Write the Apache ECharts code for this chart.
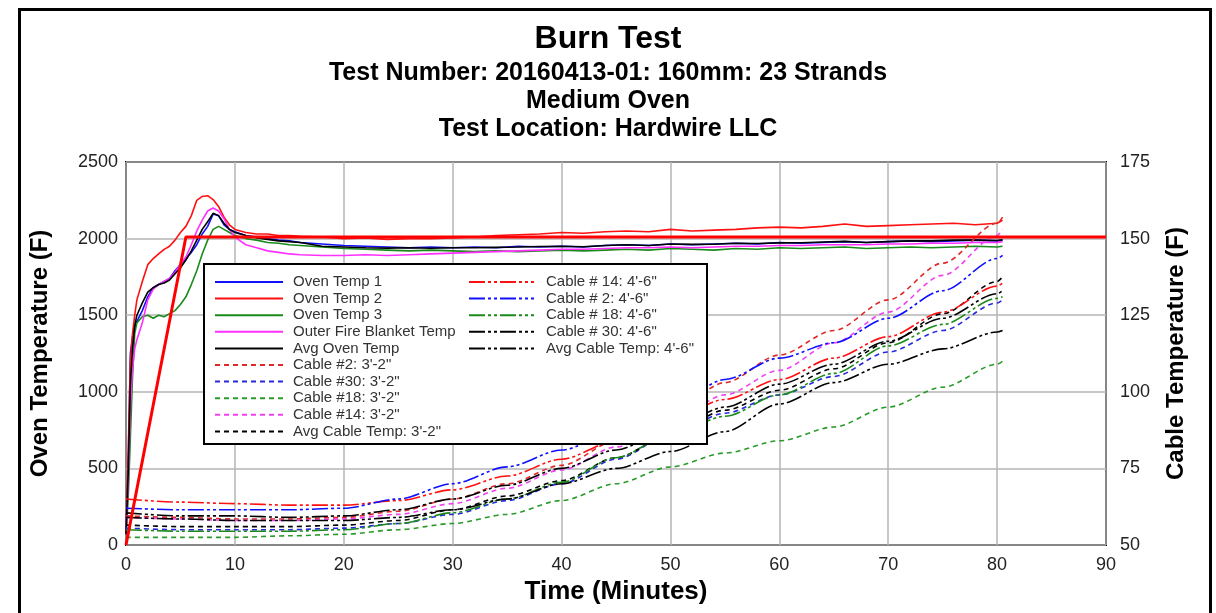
<!DOCTYPE html>
<html>
<head>
<meta charset="utf-8">
<title>Burn Test</title>
<script src="https://cdn.jsdelivr.net/npm/echarts@6.0.0/dist/echarts.min.js"></script>
<style>
  html, body { margin: 0; padding: 0; background: #fff; }
  #myChart { width: 1216px; height: 613px; }
</style>
</head>
<body>
<div id="myChart"></div>
<script>
// oven thermocouples (left axis, deg F), sampled in minutes
const ovenTime = [0, 0.2, 0.4, 0.6, 0.8, 1, 1.5, 2, 2.5, 3, 3.5, 4, 4.5, 5, 5.5, 6, 6.5, 7, 7.5, 8, 8.5, 9, 9.5, 10,
  11, 12, 13, 14, 15, 16, 18, 20, 22, 24, 26, 28, 30, 32, 34, 36, 38, 40, 42, 44, 46, 48, 50, 52, 54, 56, 58, 60,
  62, 64, 66, 68, 70, 72, 74, 76, 78, 80, 80.5]
const ovenTemp1 = [70, 500, 1250, 1360, 1420, 1460, 1530, 1620, 1680, 1700, 1720, 1740, 1790, 1830, 1870, 1910, 1960, 2030, 2080, 2160, 2150, 2090, 2060, 2045,
  2020, 2010, 2000, 1990, 1985, 1975, 1965, 1955, 1950, 1945, 1940, 1945, 1940, 1945, 1940, 1950, 1945, 1950, 1945, 1955, 1960, 1955, 1965, 1960, 1965, 1970, 1965, 1975,
  1970, 1975, 1980, 1975, 1980, 1985, 1980, 1985, 1990, 1985, 1990]
const ovenTemp2 = [70, 600, 1200, 1380, 1500, 1600, 1720, 1830, 1870, 1900, 1930, 1950, 1990, 2040, 2080, 2150, 2250, 2275, 2280, 2255, 2210, 2140, 2090, 2060,
  2040, 2030, 2030, 2020, 2020, 2015, 2010, 2000, 2005, 1995, 2000, 2000, 2005, 2010, 2020, 2025, 2030, 2040, 2035, 2045, 2050, 2045, 2060, 2050, 2055, 2060, 2070, 2075,
  2070, 2080, 2095, 2080, 2085, 2090, 2095, 2100, 2090, 2100, 2120]
const ovenTemp3 = [70, 300, 700, 1100, 1380, 1450, 1490, 1500, 1480, 1500, 1490, 1510, 1530, 1570, 1620, 1700, 1790, 1900, 1990, 2060, 2080, 2060, 2040, 2020,
  2000, 1990, 1975, 1970, 1960, 1955, 1945, 1935, 1930, 1925, 1920, 1925, 1920, 1915, 1920, 1915, 1920, 1925, 1920, 1925, 1930, 1925, 1935, 1930, 1925, 1935, 1930, 1940,
  1935, 1940, 1945, 1935, 1940, 1945, 1940, 1945, 1950, 1945, 1950]
const blanketTemp = [70, 400, 900, 1150, 1280, 1340, 1450, 1600, 1670, 1700, 1720, 1740, 1780, 1830, 1880, 1960, 2050, 2120, 2180, 2200, 2180, 2130, 2060, 2010,
  1960, 1940, 1920, 1910, 1900, 1895, 1890, 1890, 1895, 1890, 1895, 1900, 1905, 1910, 1915, 1920, 1925, 1930, 1930, 1935, 1940, 1940, 1945, 1940, 1945, 1950, 1950, 1955,
  1955, 1960, 1960, 1960, 1965, 1965, 1970, 1970, 1975, 1975, 1980]
const avgOvenTemp = [70, 470, 1050, 1280, 1430, 1500, 1580, 1650, 1680, 1700, 1710, 1730, 1770, 1810, 1860, 1920, 1990, 2060, 2110, 2165, 2150, 2100, 2060, 2040,
  2020, 2005, 1995, 1985, 1980, 1975, 1950, 1945, 1940, 1938, 1940, 1937, 1940, 1940, 1943, 1945, 1948, 1950, 1947, 1955, 1960, 1955, 1965, 1962, 1963, 1970, 1968, 1972,
  1973, 1978, 1982, 1975, 1980, 1985, 1985, 1990, 1990, 1988, 1992]

// target curve
const targetTime = [0, 5.5, 90]
const targetTemp = [0, 2010, 2010]

// cable thermocouples (right axis, deg F)
const cableTime = [0, 5, 10, 15, 20, 25, 30, 35, 40, 45, 50, 55, 60, 65, 70, 75, 80, 80.5]
const cable2_32 = [59.5, 59, 58.5, 58.5, 59, 61, 65, 70, 76, 84, 93, 103, 112, 120, 130, 142, 155, 157]
const cable30_32 = [55.5, 55, 55, 55, 55.5, 57, 60, 64.5, 70, 78, 86, 93, 99, 105, 113, 120, 129, 130]
const cable18_32 = [52.5, 52.5, 52.5, 53, 53.5, 55, 57, 60, 64.5, 70, 75.5, 80, 84, 88.5, 95, 101.5, 109, 110]
const cable14_32 = [59, 58.5, 58, 58, 58.5, 60, 63.5, 68.5, 74.5, 82, 90, 99, 107, 116, 126, 138, 151, 153]
const avgCable_32 = [56.5, 56, 56, 56, 56.5, 58, 61.5, 66, 71, 78.5, 86, 94, 100.5, 107.5, 116, 125.5, 136, 137.5]
const cable14_46 = [65, 64, 63.5, 63, 63, 64.5, 68, 72.5, 78, 84, 91, 97.5, 104, 111, 118, 126, 134.5, 135.5]
const cable2_46 = [62, 61.5, 61.5, 61.5, 62, 65, 70, 75.5, 81, 87, 95, 104, 111, 116, 124, 133, 143.5, 144.5]
const cable18_46 = [55, 54.5, 54.5, 54.5, 55, 57, 60.5, 65, 70.5, 78.5, 86, 92, 99, 106, 115, 122, 130.5, 131]
const cable30_46 = [59, 58.5, 58, 58, 58, 59, 61.5, 65, 70, 75, 80.5, 87, 96, 103, 109, 114, 119.5, 120]
const avgCable_46 = [60.5, 59.5, 59.5, 59, 59.5, 61.5, 65, 69.5, 75, 81, 88, 95, 102.5, 109, 116.5, 124, 132, 133]

const legendLeft = ['Oven Temp 1', 'Oven Temp 2', 'Oven Temp 3', 'Outer Fire Blanket Temp', 'Avg Oven Temp',
  'Cable #2: 3\'-2"', 'Cable #30: 3\'-2"', 'Cable #18: 3\'-2"', 'Cable #14: 3\'-2"', 'Avg Cable Temp: 3\'-2"']
const legendRight = ['Cable # 14: 4\'-6"', 'Cable # 2: 4\'-6"', 'Cable # 18: 4\'-6"', 'Cable # 30: 4\'-6"', 'Avg Cable Temp: 4\'-6"']

const font = 'Arial, "Liberation Sans", sans-serif'
const dotted = [5, 4]
const dashDot = [16, 3, 3, 3, 3, 3]

function pairs(xs, ys) {
  return xs.map((x, i) => [x, ys[i]])
}

function ovenLine(name, ys, color) {
  return {
    name: name, type: 'line', yAxisIndex: 0, z: 3,
    data: pairs(ovenTime, ys), symbol: 'none',
    lineStyle: { color: color, width: 1.6 }, itemStyle: { color: color }
  }
}

function cableLine(name, ys, color, dash) {
  return {
    name: name, type: 'line', yAxisIndex: 1, z: 3,
    data: pairs(cableTime, ys), symbol: 'none', smooth: 0.3, smoothMonotone: 'x',
    lineStyle: { color: color, width: 1.6, type: dash }, itemStyle: { color: color }
  }
}

let myChart = echarts.init(document.getElementById('myChart'))

// legend shared look: plain line icon, no marker
let legendBase = {
  orient: 'vertical', top: 274.5, padding: 0, z: 20,
  itemHeight: 12, itemGap: 1.6, selectedMode: false,
  itemStyle: { color: 'rgba(0,0,0,0)', opacity: 0, borderWidth: 0 }
}

let option = {
  animation: false,
  backgroundColor: '#fff',
  title: [
    {
      text: 'Burn Test', left: 'center', top: 23, padding: 0,
      textStyle: { fontFamily: font, fontSize: 32, fontWeight: 'bold', color: '#000', lineHeight: 32 }
    },
    {
      text: 'Test Number: 20160413-01: 160mm: 23 Strands\nMedium Oven\nTest Location: Hardwire LLC',
      left: 'center', top: 59, padding: 0,
      textStyle: { fontFamily: font, fontSize: 25, fontWeight: 'bold', color: '#000', lineHeight: 28 }
    }
  ],
  graphic: [
    // outer frame
    {
      type: 'rect', left: 17, top: 7, z: 1, silent: true,
      shape: { width: 1191, height: 640 },
      style: { fill: 'none', stroke: '#000', lineWidth: 3 }
    },
    // legend box
    {
      type: 'rect', left: 203, top: 263, z: 10, silent: true,
      shape: { width: 503, height: 180 },
      style: { fill: '#fff', stroke: '#000', lineWidth: 2 }
    }
  ],
  legend: [
    Object.assign({}, legendBase, {
      data: legendLeft, left: 214, itemWidth: 68,
      textStyle: { fontFamily: font, fontSize: 15, color: '#333', padding: [0, 0, 0, 5] }
    }),
    Object.assign({}, legendBase, {
      data: legendRight, left: 468, itemWidth: 65,
      textStyle: { fontFamily: font, fontSize: 15, color: '#333', padding: [0, 0, 0, 7] }
    })
  ],
  grid: {
    left: 126, top: 162, width: 980, height: 383,
    show: true, borderColor: '#000', borderWidth: 2, backgroundColor: '#fff',
    containLabel: false
  },
  xAxis: {
    type: 'value', min: 0, max: 90, interval: 10,
    name: 'Time (Minutes)', nameLocation: 'middle', nameGap: 30,
    nameTextStyle: { fontFamily: font, fontSize: 26, fontWeight: 'bold', color: '#000' },
    axisLine: { show: false }, axisTick: { show: false },
    axisLabel: { fontFamily: font, fontSize: 18, color: '#222', margin: 11, formatter: v => String(v) },
    splitLine: { show: true, lineStyle: { color: '#b4b4b4', width: 1.5 } }
  },
  yAxis: [
    {
      type: 'value', min: 0, max: 2500, interval: 500, position: 'left',
      name: 'Oven Temperature (F)', nameLocation: 'middle', nameGap: 74,
      nameTextStyle: { fontFamily: font, fontSize: 24, fontWeight: 'bold', color: '#000' },
      axisLine: { show: false }, axisTick: { show: false },
      axisLabel: { fontFamily: font, fontSize: 18, color: '#222', margin: 8, formatter: v => String(v) },
      splitLine: { show: true, lineStyle: { color: '#b4b4b4', width: 1.5 } }
    },
    {
      type: 'value', min: 50, max: 175, interval: 25, position: 'right',
      name: 'Cable Temperature (F)', nameLocation: 'middle', nameGap: 58,
      nameTextStyle: { fontFamily: font, fontSize: 24, fontWeight: 'bold', color: '#000' },
      axisLine: { show: false }, axisTick: { show: false },
      axisLabel: { fontFamily: font, fontSize: 18, color: '#222', margin: 14, formatter: v => String(v) },
      splitLine: { show: false }
    }
  ],
  series: [
    ovenLine('Oven Temp 1', ovenTemp1, '#1010ff'),
    ovenLine('Oven Temp 2', ovenTemp2, '#ff1010'),
    ovenLine('Oven Temp 3', ovenTemp3, '#1a8a1a'),
    ovenLine('Outer Fire Blanket Temp', blanketTemp, '#ff30ff'),
    ovenLine('Avg Oven Temp', avgOvenTemp, '#000'),
    cableLine('Cable #2: 3\'-2"', cable2_32, '#e02828', dotted),
    cableLine('Cable #30: 3\'-2"', cable30_32, '#2828e0', dotted),
    cableLine('Cable #18: 3\'-2"', cable18_32, '#2a9a2a', dotted),
    cableLine('Cable #14: 3\'-2"', cable14_32, '#f040f0', dotted),
    cableLine('Avg Cable Temp: 3\'-2"', avgCable_32, '#000', dotted),
    cableLine('Cable # 14: 4\'-6"', cable14_46, '#ff1010', dashDot),
    cableLine('Cable # 2: 4\'-6"', cable2_46, '#1010ff', dashDot),
    cableLine('Cable # 18: 4\'-6"', cable18_46, '#1a8a1a', dashDot),
    cableLine('Cable # 30: 4\'-6"', cable30_46, '#000', dashDot),
    cableLine('Avg Cable Temp: 4\'-6"', avgCable_46, '#000', dashDot),
    {
      name: 'Target', type: 'line', yAxisIndex: 0, z: 4,
      data: pairs(targetTime, targetTemp), symbol: 'none',
      lineStyle: { color: '#ff0000', width: 3 }
    }
  ]
}

myChart.setOption(option)
</script>
</body>
</html>
